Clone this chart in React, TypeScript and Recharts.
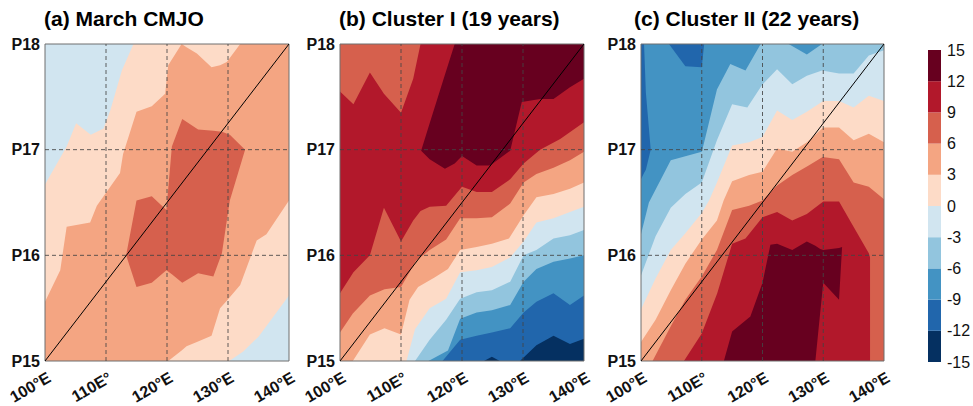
import React from "react";
import { ComposedChart, Area, Line, XAxis, YAxis, ReferenceLine, ReferenceArea } from "recharts";

// contour levels and their fill colours (RdBu, 10 classes)
const levels = [-15, -12, -9, -6, -3, 0, 3, 6, 9, 12, 15];
const palette = ["#053061", "#2166ac", "#4393c3", "#92c5de", "#d1e5f0", "#fddbc7", "#f4a582", "#d6604d", "#b2182b", "#67001f"];

const xTicks = [100, 110, 120, 130, 140];
const xTickLabels = ["100°E", "110E°", "120°E", "130°E", "140°E"];
const yTicks = [15, 16, 17, 18];
const yTickLabels = ["P15", "P16", "P17", "P18"];
const titles = ["(a) March CMJO", "(b) Cluster I (19 years)", "(c) Cluster II (22 years)"];
const diagonal = [{ x: 100, y: 15 }, { x: 140, y: 18 }];

// rows: [longitude, lower pentad, upper pentad] of the area whose value exceeds the level
// (a) March CMJO
const aAbove0 = [
  [100, 15, 16.67], [103.55, 15, 17.03], [105.1, 15, 17.25], [107.5, 15, 17.14], [109.6, 15, 17.2],
  [110.7, 15, 17.37], [112.6, 15, 17.75], [114.5, 15, 18], [130.2, 15, 18], [132.5, 15.09, 18],
  [135, 15.23, 18], [140, 15.62, 18],
];
const aAbove3 = [
  [100, 15, 15.56], [102.5, 15, 15.86], [103.55, 15, 16.27], [107.4, 15, 16.31], [108.5, 15, 16.47],
  [112.3, 15, 16.78], [112.8, 15, 16.96], [115, 15, 17.36], [117.5, 15, 17.41], [119.7, 15, 17.53],
  [120.2, 15, 17.8], [122.4, 15.1, 18], [123.2, 15.14, 17.97], [124.9, 15.18, 17.91], [127.3, 15.24, 17.78],
  [128.7, 15.5, 17.8], [129.8, 15.57, 17.83], [132, 15.72, 18], [134.7, 16.14, 18], [136.3, 16.2, 18],
  [140, 16.52, 18],
];
const aAbove6 = [
  [113.3, 16.0, 16.0], [115, 15.7, 16.52], [117.5, 15.74, 16.56], [119.9, 15.86, 16.43], [120.8, 15.82, 17.03],
  [122.5, 15.74, 17.29], [125.1, 15.83, 17.19], [127.6, 15.8, 17.18], [129, 16.02, 17.17], [130.3, 16.52, 17.14],
  [132.8, 17.0, 17.0],
];

// (b) Cluster I
const bAboveM12 = [
  [100, 15, 18], [123.6, 15, 18], [124.9, 15.04, 18], [126.2, 15, 18], [129.5, 15, 18], [132.2, 15.15, 18],
  [135, 15.24, 18], [137.7, 15.16, 18], [140, 15.21, 18],
];
const bAboveM9 = [
  [100, 15, 18], [116.8, 15, 18], [119.7, 15.2, 18], [122.4, 15.24, 18], [124.9, 15.27, 18], [127.9, 15.31, 18],
  [130.1, 15.46, 18], [132.2, 15.56, 18], [135, 15.64, 18], [137.7, 15.53, 18], [140, 15.62, 18],
];
const bAboveM6 = [
  [100, 15, 18], [114.5, 15, 18], [117.7, 15.1, 18], [119.7, 15.4, 18], [122.4, 15.46, 18], [124.9, 15.48, 18],
  [127.9, 15.53, 18], [130.1, 15.75, 18], [132.2, 15.87, 18], [135, 15.94, 18], [137.7, 15.97, 18], [140, 16.0, 18],
];
const bAboveM3 = [
  [100, 15, 18], [112.3, 15, 18], [114.7, 15.2, 18], [117.4, 15.39, 18], [119.7, 15.59, 18], [122.4, 15.65, 18],
  [124.9, 15.67, 18], [127.9, 15.75, 18], [130.1, 16.0, 18], [132.2, 16.05, 18], [135, 16.16, 18],
  [137.7, 16.19, 18], [140, 16.24, 18],
];
const bAbove0 = [
  [100, 15, 18], [110.9, 15, 18], [112.3, 15.3, 18], [114.7, 15.5, 18], [117.4, 15.59, 18], [119.7, 15.84, 18],
  [122.4, 15.86, 18], [124.9, 15.89, 18], [127.9, 15.98, 18], [130.1, 16.13, 18], [132.2, 16.31, 18],
  [135, 16.35, 18], [137.7, 16.41, 18], [140, 16.46, 18],
];
const bAbove3 = [
  [100, 15, 18], [102.1, 15, 18], [104.9, 15.25, 18], [107.3, 15.31, 18], [110, 15.25, 18], [111.4, 15.58, 18],
  [112.8, 15.7, 18], [115.5, 15.79, 18], [117.7, 15.87, 18], [119.7, 16.05, 18], [122.4, 16.08, 18],
  [124.9, 16.11, 18], [127.7, 16.16, 18], [130.1, 16.38, 18], [132.2, 16.55, 18], [135, 16.58, 18],
  [137.7, 16.63, 18], [140, 16.69, 18],
];
const bAbove6 = [
  [100, 15.27, 18], [102.1, 15.45, 18], [104.9, 15.62, 18], [107.3, 15.68, 18], [110, 15.7, 18], [112.5, 15.95, 18],
  [114.7, 16.05, 18], [117.4, 16.15, 18], [119.7, 16.35, 18], [122.4, 16.35, 18], [124.9, 16.36, 18],
  [127.9, 16.49, 18], [130.1, 16.69, 18], [132.2, 16.77, 18], [135, 16.83, 18], [137.7, 16.9, 18], [140, 16.98, 18],
];
const bAbove9 = [
  [100, 15.64, 17.55], [102.2, 15.84, 17.43], [104.9, 16.0, 17.73], [107.2, 16.45, 17.53], [110, 16.13, 17.35],
  [112, 16.33, 17.67], [113.2, 16.42, 18], [114.7, 16.46, 18], [117.4, 16.47, 18], [120, 16.65, 18],
  [122.4, 16.6, 18], [124.9, 16.6, 18], [127.9, 16.72, 18], [130.1, 16.87, 18], [132.8, 17.0, 18],
  [136.1, 17.1, 18], [140, 17.26, 18],
];
const bAbove12 = [
  [113.3, 16.99, 16.99], [114.7, 16.91, 17.25], [117.2, 16.82, 17.71], [118.8, 16.87, 18], [120, 16.94, 18],
  [122.4, 16.85, 18], [124.6, 16.85, 18], [127.9, 16.99, 18], [129.8, 17.45, 18], [132.8, 17.48, 18],
  [135, 17.48, 18], [137.7, 17.59, 18], [140, 17.67, 18],
];

// (c) Cluster II
const cStripM12 = [[100, 16.72, 18], [100.5, 16.78, 18], [100.8, 16.81, 17.54], [101.6, 17.0, 17.0]];
const cTopM12 = [[104.6, 18, 18], [107.3, 17.79, 18], [110, 17.78, 18], [110.4, 18, 18]];
const cAboveM6 = [
  [100, 15, 16.2], [101.3, 15, 16.5], [104.9, 15, 16.9], [110, 15, 16.98], [110.4, 15, 17.07], [112.5, 15, 17.57],
  [114.7, 15, 17.81], [117.2, 15, 17.75], [119.7, 15, 18], [124.3, 15, 18], [127.3, 15, 17.9], [129.8, 15, 18],
  [140, 15, 18],
];
const cAboveM3 = [
  [100, 15, 15.81], [102.4, 15, 16.18], [104.9, 15, 16.45], [107.3, 15, 16.58], [110, 15, 16.69], [112.5, 15, 17.09],
  [115, 15, 17.43], [117.5, 15, 17.4], [119.9, 15, 17.61], [122.4, 15, 17.76], [124.9, 15, 17.62], [127.3, 15, 17.7],
  [129.8, 15, 17.75], [132.6, 15, 17.72], [135, 15, 17.72], [137.5, 15, 17.89], [140, 15, 17.94],
];
const cAbove0 = [
  [100, 15, 15.49], [102.4, 15, 15.78], [104.9, 15, 16.05], [107.3, 15, 16.21], [110, 15, 16.4], [111.2, 15, 16.52],
  [112.5, 15, 16.69], [115, 15, 17.04], [117.8, 15, 17.07], [120, 15, 17.12], [122.4, 15, 17.37], [124.9, 15, 17.28],
  [127.3, 15, 17.36], [130, 15, 17.46], [132.6, 15, 17.46], [135, 15, 17.4], [137.5, 15, 17.51], [140, 15, 17.46],
];
const cAbove3 = [
  [100, 15, 15.18], [102.4, 15, 15.39], [104.9, 15, 15.67], [107.3, 15, 15.92], [110, 15, 16.15], [112.5, 15, 16.33],
  [113.6, 15, 16.52], [115, 15, 16.7], [117.8, 15, 16.76], [120, 15, 16.79], [122.4, 15, 17.01], [124.9, 15, 16.98],
  [127.3, 15, 17.07], [130, 15, 17.21], [132.6, 15, 17.21], [135, 15, 17.09], [137.5, 15, 17.15], [140, 15, 17.07],
];
const cAbove6 = [
  [101.9, 15, 15.0], [104.9, 15, 15.33], [107.3, 15, 15.58], [110, 15, 15.8], [112.5, 15, 16.05], [115, 15, 16.43],
  [117.8, 15, 16.47], [120, 15, 16.52], [122.4, 15, 16.66], [124.9, 15, 16.76], [127.6, 15, 16.85],
  [129.9, 15, 16.93], [132.6, 15, 16.91], [135, 15, 16.69], [137.5, 15, 16.65], [140, 15, 16.53],
];
const cAbove9 = [
  [107.07, 15, 15], [110, 15, 15.26], [112.55, 15, 15.64], [115, 15, 16.11], [117.2, 15, 16.16], [120, 15, 16.36],
  [122.4, 15, 16.41], [124.9, 15, 16.33], [127.3, 15, 16.39], [130, 15, 16.51], [132.6, 15, 16.51],
  [134.7, 15, 16.3], [137.5, 15, 16.02], [137.7, 15, 15.98],
];
const cAbove12 = [
  [113.64, 15, 15], [115, 15, 15.28], [118, 15, 15.42], [120, 15, 15.74], [121.3, 15, 16.1], [122.4, 15, 16.11],
  [124.9, 15, 16.05], [127.3, 15, 16.13], [128.7, 15, 16.09], [129.5, 15.46, 16.06], [130, 15.74, 16.05],
  [132.6, 15.58, 16.07], [133.1, 16.08, 16.08],
];

const fullBox = [[100, 15, 18], [140, 15, 18]];

const panels = [
  { base: -3, regions: [[0, aAbove0], [3, aAbove3], [6, aAbove6]] },
  {
    base: -15,
    regions: [[-12, bAboveM12], [-9, bAboveM9], [-6, bAboveM6], [-3, bAboveM3], [0, bAbove0], [3, bAbove3],
      [6, bAbove6], [9, bAbove9], [12, bAbove12]],
  },
  {
    base: -9,
    regions: [[-12, cStripM12], [-12, cTopM12], [-6, cAboveM6], [-3, cAboveM3], [0, cAbove0], [3, cAbove3],
      [6, cAbove6], [9, cAbove9], [12, cAbove12]],
  },
];

const FONT = "'Liberation Sans', Arial, Helvetica, sans-serif";
const colorOf = (level: number) => palette[levels.indexOf(level)];
const toRows = (rows: number[][]) => rows.map(([x, lo, hi]) => ({ x, v: [lo, hi] }));

const panelLeft = [0, 295, 596];
const panelRight = [11, 11, 12];
const titleLeft = [44, 339, 634];

function XTick(props: any) {
  const { x, y, payload } = props;
  const label = xTickLabels[xTicks.indexOf(payload.value)];
  const ax = x + 7;
  return (
    <text x={ax} y={y} transform={`rotate(-30 ${ax} ${y})`} textAnchor="end"
      fontSize={16} fontWeight={700} fill="#111" fontFamily={FONT}>
      {label}
    </text>
  );
}

function Panel({ idx }: { idx: number }) {
  const p = panels[idx];
  return (
    <div style={{ position: "absolute", left: panelLeft[idx], top: 0 }}>
      <ComposedChart width={300} height={406} margin={{ top: 44, right: panelRight[idx], bottom: 0, left: 0 }}>
        <XAxis
          type="number" dataKey="x" domain={[100, 140]} ticks={xTicks} allowDataOverflow
          axisLine={false} tickLine={false} tickSize={0} tickMargin={20} height={45}
          interval={0} tick={<XTick />}
        />
        <YAxis
          type="number" domain={[15, 18]} ticks={yTicks} allowDataOverflow
          axisLine={false} tickLine={false} tickSize={0} tickMargin={5} width={45}
          tickFormatter={(v: number) => yTickLabels[yTicks.indexOf(v)]}
          tick={{ fontSize: 16, fontWeight: 700, fill: "#111", fontFamily: FONT }}
        />
        <Area data={toRows(fullBox)} dataKey="v" type="linear" stroke="none" fill={colorOf(p.base)}
          fillOpacity={1} isAnimationActive={false} dot={false} activeDot={false} />
        {p.regions.map(([lvl, rows], i) => (
          <Area key={i} data={toRows(rows as number[][])} dataKey="v" type="linear" stroke="none"
            fill={colorOf(lvl as number)} fillOpacity={1} isAnimationActive={false} dot={false} activeDot={false} />
        ))}
        {[110, 120, 130].map((x) => (
          <ReferenceLine key={"x" + x} x={x} stroke="#444" strokeOpacity={0.85} strokeDasharray="4 3" />
        ))}
        {[16, 17].map((y) => (
          <ReferenceLine key={"y" + y} y={y} stroke="#444" strokeOpacity={0.85} strokeDasharray="4 3" />
        ))}
        <Line data={diagonal} dataKey="y" type="linear" stroke="#000" strokeWidth={1} dot={false}
          activeDot={false} isAnimationActive={false} />
        <ReferenceArea x1={100} x2={140} y1={15} y2={18} fill="none" fillOpacity={0} stroke="#6e6e6e" strokeWidth={1} />
      </ComposedChart>
      <div style={{ position: "absolute", left: titleLeft[idx] - panelLeft[idx], top: 8, fontSize: 21, fontWeight: 700,
        fontFamily: FONT, lineHeight: "21px", whiteSpace: "nowrap", color: "#000" }}>
        {titles[idx]}
      </div>
    </div>
  );
}

function ColorBar() {
  const bands = palette.map((c, i) => ({ c, rows: [[0, levels[i], levels[i + 1]], [1, levels[i], levels[i + 1]]] }));
  return (
    <div style={{ position: "absolute", left: 920, top: 0 }}>
      <ComposedChart width={53} height={406} margin={{ top: 50, right: 0, bottom: 44, left: 8 }}>
        <XAxis type="number" dataKey="x" domain={[0, 1]} hide height={0} />
        <YAxis
          orientation="right" type="number" domain={[-15, 15]} ticks={levels} interval={0}
          axisLine={false} tickLine={false} tickSize={0} tickMargin={6} width={32}
          tick={{ fontSize: 16, fill: "#111", fontFamily: FONT }}
        />
        {bands.map((b, i) => (
          <Area key={i} data={toRows(b.rows)} dataKey="v" type="linear" stroke="none" fill={b.c}
            fillOpacity={1} isAnimationActive={false} dot={false} activeDot={false} />
        ))}
      </ComposedChart>
    </div>
  );
}

export default function App() {
  return (
    <div style={{ position: "absolute", left: 0, top: 0, width: 973, height: 406, background: "#fff", overflow: "hidden" }}>
      <Panel idx={0} />
      <Panel idx={1} />
      <Panel idx={2} />
      <ColorBar />
    </div>
  );
}
